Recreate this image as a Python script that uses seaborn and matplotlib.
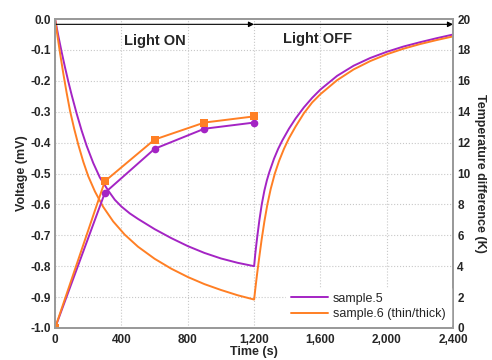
import matplotlib
matplotlib.use("Agg")
import matplotlib.pyplot as plt
import seaborn as sns

# voltage during light ON / OFF (mV)
t_on_s5 = [0, 20, 40, 60, 80, 100, 130, 160, 190, 230, 270, 320, 360, 400, 450, 500, 600, 700, 800,
           900, 1000, 1100, 1200]
v_on_s5 = [0, -0.056, -0.108, -0.157, -0.203, -0.246, -0.306, -0.361, -0.41, -0.466, -0.513, -0.555,
           -0.585, -0.607, -0.629, -0.647, -0.68, -0.709, -0.735, -0.757, -0.775, -0.789, -0.80]
t_off_s5 = [1200, 1207, 1214, 1220, 1232, 1246, 1262, 1277, 1292, 1320, 1345, 1370, 1410, 1450, 1500,
            1550, 1600, 1700, 1800, 1900, 2000, 2100, 2200, 2300, 2400]
v_off_s5 = [-0.80, -0.76, -0.727, -0.70, -0.65, -0.60, -0.555, -0.522, -0.495, -0.452, -0.42, -0.393,
            -0.355, -0.322, -0.286, -0.255, -0.228, -0.184, -0.151, -0.126, -0.106, -0.089, -0.075,
            -0.062, -0.05]

t_on_s6 = [0, 15, 30, 50, 70, 90, 115, 140, 170, 200, 240, 290, 350, 420, 500, 600, 700, 800, 900,
           1000, 1100, 1200]
v_on_s6 = [0, -0.057, -0.111, -0.178, -0.24, -0.297, -0.355, -0.407, -0.462, -0.509, -0.558, -0.608,
           -0.655, -0.698, -0.737, -0.776, -0.808, -0.835, -0.858, -0.877, -0.894, -0.908]
t_off_s6 = [1200, 1208, 1218, 1230, 1245, 1262, 1280, 1300, 1325, 1350, 1380, 1410, 1450, 1500, 1550,
            1600, 1700, 1800, 1900, 2000, 2100, 2200, 2300, 2400]
v_off_s6 = [-0.908, -0.87, -0.825, -0.775, -0.715, -0.655, -0.60, -0.55, -0.50, -0.46, -0.42, -0.386,
            -0.348, -0.305, -0.27, -0.243, -0.198, -0.163, -0.136, -0.114, -0.096, -0.081, -0.068, -0.056]

# temperature difference (K)
t_temp = [0, 300, 600, 900, 1200]
temp_s5 = [0, 8.75, 11.6, 12.9, 13.3]
temp_s6 = [0, 9.5, 12.2, 13.3, 13.7]

labels = ["sample.5", "sample.6 (thin/thick)"]
xtick_vals = [0, 400, 800, 1200, 1600, 2000, 2400]
xtick_labels = ["0", "400", "800", "1,200", "1,600", "2,000", "2,400"]

purple = "#A424C4"
orange = "#FF7F24"

sns.set_style("white")
plt.rcParams["font.family"] = ["Liberation Sans", "DejaVu Sans"]

fig = plt.figure(figsize=(4.92, 3.6), dpi=100)
ax = fig.add_axes([0.112, 0.089, 0.809, 0.858])

sns.lineplot(x=t_on_s5 + t_off_s5[1:], y=v_on_s5 + v_off_s5[1:], ax=ax, color=purple, lw=1.4,
             sort=False, label=labels[0])
sns.lineplot(x=t_on_s6 + t_off_s6[1:], y=v_on_s6 + v_off_s6[1:], ax=ax, color=orange, lw=1.4,
             sort=False, label=labels[1])

ax.set_xlim(0, 2400)
ax.set_ylim(-1.0, 0.0)
ax.set_xticks(xtick_vals)
ax.set_xticklabels(xtick_labels)
ax.set_yticks([-1.0 + 0.1 * i for i in range(11)])
ax.set_yticklabels([f"{-1.0 + 0.1 * i:.1f}".replace("-0.0", "0.0") for i in range(11)])
ax.grid(True, color="#c8c8c8", ls=":", lw=0.8)
ax.set_xlabel("Time (s)", fontsize=9, fontweight="bold", labelpad=0)
ax.set_ylabel("Voltage (mV)", fontsize=9, fontweight="bold", labelpad=2)

ax2 = ax.twinx()
sns.lineplot(x=t_temp, y=temp_s5, ax=ax2, color=purple, lw=1.4, marker="o", markersize=5.5,
             markeredgewidth=0, legend=False)
sns.lineplot(x=t_temp, y=temp_s6, ax=ax2, color=orange, lw=1.4, marker="s", markersize=5.5,
             markeredgewidth=0, legend=False)
ax2.set_ylim(0, 20)
ax2.set_yticks(range(0, 21, 2))
ax2.set_ylabel("Temperature difference (K)", fontsize=9, fontweight="bold", rotation=270, labelpad=11)

for a in (ax, ax2):
    for sp in a.spines.values():
        sp.set_color("#9a9a9a")
        sp.set_linewidth(1.3)
    a.tick_params(length=0, pad=3, labelsize=8.5)
    for lab in a.get_xticklabels() + a.get_yticklabels():
        lab.set_fontweight("bold")
ax.tick_params(axis="x", pad=4.5)

# light on / off arrows
ax.annotate("", xy=(1200, -0.017), xytext=(0, -0.017),
            arrowprops=dict(arrowstyle="-|>", color="black", lw=0.8, mutation_scale=8,
                            shrinkA=0, shrinkB=0))
ax.annotate("", xy=(2400, -0.017), xytext=(1200, -0.017),
            arrowprops=dict(arrowstyle="-|>", color="black", lw=0.8, mutation_scale=8,
                            shrinkA=0, shrinkB=0))
ax.text(600, -0.07, "Light ON", ha="center", va="center", fontsize=10.5, fontweight="bold")
ax.text(1580, -0.065, "Light OFF", ha="center", va="center", fontsize=10.5, fontweight="bold")

handles, leg_labels = ax.get_legend_handles_labels()
ax.get_legend().remove()
leg = ax2.legend(handles, leg_labels, loc="lower right", fontsize=9, frameon=True, fancybox=False,
                 handlelength=3.0, borderaxespad=0.2, handletextpad=0.4, labelspacing=0.3)
leg.get_frame().set_edgecolor("white")
leg.get_frame().set_alpha(1.0)

fig.savefig("out.png", dpi=100)
